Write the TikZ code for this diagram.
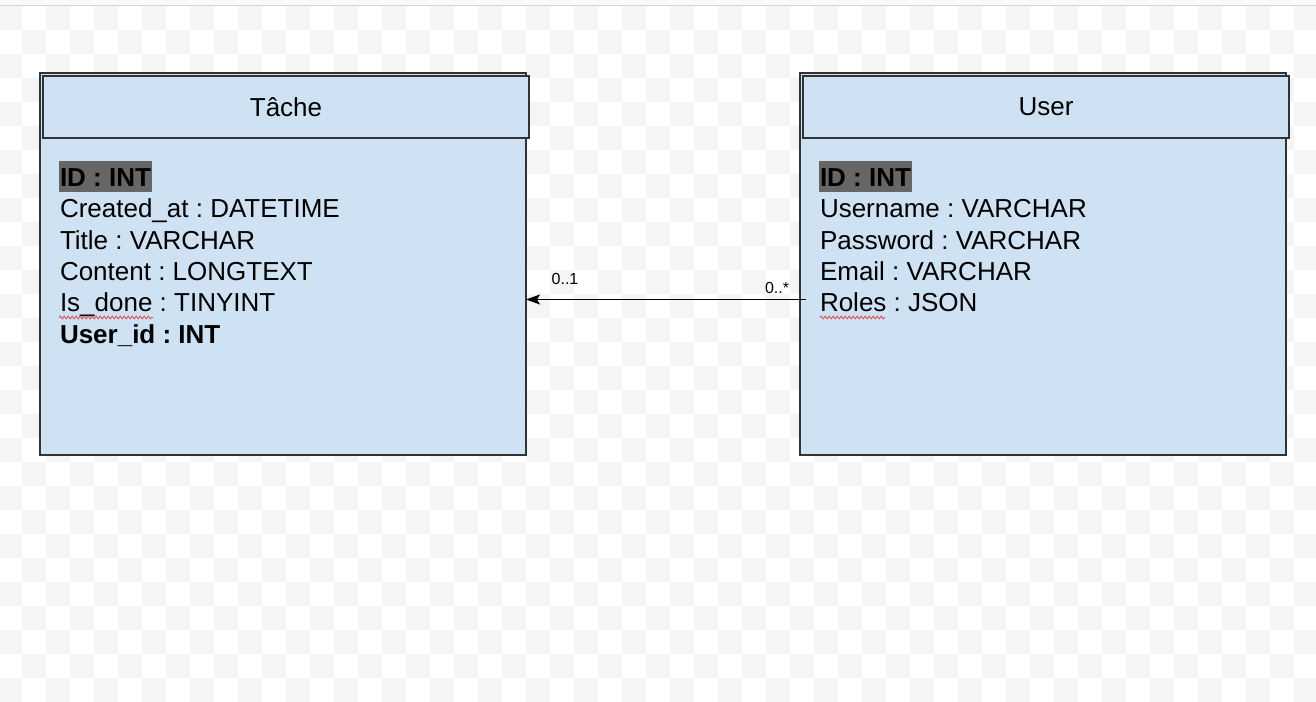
\documentclass[tikz,border=0pt]{standalone}
\usepackage{fontspec}
\setmainfont{Liberation Sans}
\usetikzlibrary{arrows.meta,decorations.pathmorphing}
\definecolor{boxfill}{HTML}{CFE2F3}
\definecolor{boxline}{HTML}{333333}
\definecolor{checkgray}{HTML}{F5F5F5}
\definecolor{topband}{HTML}{F8F9FA}
\definecolor{topline}{HTML}{D3D3D3}
\definecolor{idgray}{HTML}{666666}
\definecolor{squig}{HTML}{E05555}
\frenchspacing
\tikzset{
  tbl/.style={draw=boxline, line width=1.4pt, fill=boxfill, inner sep=0pt, outer sep=0pt, anchor=north west, minimum width=486pt},
  tblbody/.style={tbl, minimum height=382pt},
  tblhead/.style={tbl, minimum height=62pt, font=\fontsize{26}{31}\selectfont},
  attr/.style={anchor=base west, inner sep=0pt, outer sep=0pt, font=\fontsize{26}{31}\selectfont},
  keyattr/.style={attr, font=\fontsize{26}{31}\selectfont\bfseries, fill=idgray, inner xsep=1pt, inner ysep=0pt, text height=25.5pt, text depth=5.5pt},
  fkattr/.style={attr, font=\fontsize{26}{31}\selectfont\bfseries},
  mult/.style={anchor=base, inner sep=0pt, font=\fontsize{16}{19}\selectfont},
  spell/.style={squig, line width=0.9pt, decorate, decoration={snake, amplitude=1.4pt, segment length=4pt}},
  link/.style={line width=1.3pt, -{Stealth[length=14pt,width=10pt,inset=3pt]}}
}
\begin{document}
\begin{tikzpicture}[x=1pt,y=-1pt]
\useasboundingbox (0,0) rectangle (1316,701);
% background
\fill[white] (0,0) rectangle (1316,701);
\begin{scope}
  \clip (0,6) rectangle (1316,701);
  \foreach \j in {0,...,28}{
    \foreach \k in {0,...,28}{
      \pgfmathsetmacro\xx{(2*\k+mod(\j,2))*24-2}
      \pgfmathsetmacro\yy{6+24*\j}
      \fill[checkgray] (\xx,\yy) rectangle ++(24,24);
    }
  }
\end{scope}
\fill[topband] (0,0) rectangle (1316,5);
\draw[topline, line width=1pt] (0,5.5) -- (1316,5.5);

% Tache table
\node[tblbody] (tbody) at (40,73) {};
\node[tblhead] (thead) at (43,76) {Tâche};
\node[keyattr] (t1) at (59,186.5) {ID : INT};
\node[attr] (t2) at (60,217.9) {Created\_at : DATETIME};
\node[attr] (t3) at (60,249.2) {Title : VARCHAR};
\node[attr] (t4) at (60,280.6) {Content : LONGTEXT};
\node[attr] (t5) at (60,311.9) {Is\_done : TINYINT};
\node[fkattr] (t6) at (60,343.3) {User\_id : INT};
\draw[spell] (59,317.5) -- (153,317.5);

% User table
\node[tblbody] (ubody) at (800,73) {};
\node[tblhead] (uhead) at (803,76) {User};
\node[keyattr] (u1) at (819,186.5) {ID : INT};
\node[attr] (u2) at (820,217.9) {Username : VARCHAR};
\node[attr] (u3) at (820,249.2) {Password : VARCHAR};
\node[attr] (u4) at (820,280.6) {Email : VARCHAR};
\node[attr] (u5) at (820,311.9) {Roles : JSON};
\draw[spell] (820,317.5) -- (885,317.5);

% relation
\coordinate (a1) at (806,299.5);
\draw[link] (a1) -- (a1 -| tbody.east);
\node[mult] (m1) at (565,284.3) {0..1};
\node[mult] (m2) at (777,293.3) {0..*};
\end{tikzpicture}
\end{document}
